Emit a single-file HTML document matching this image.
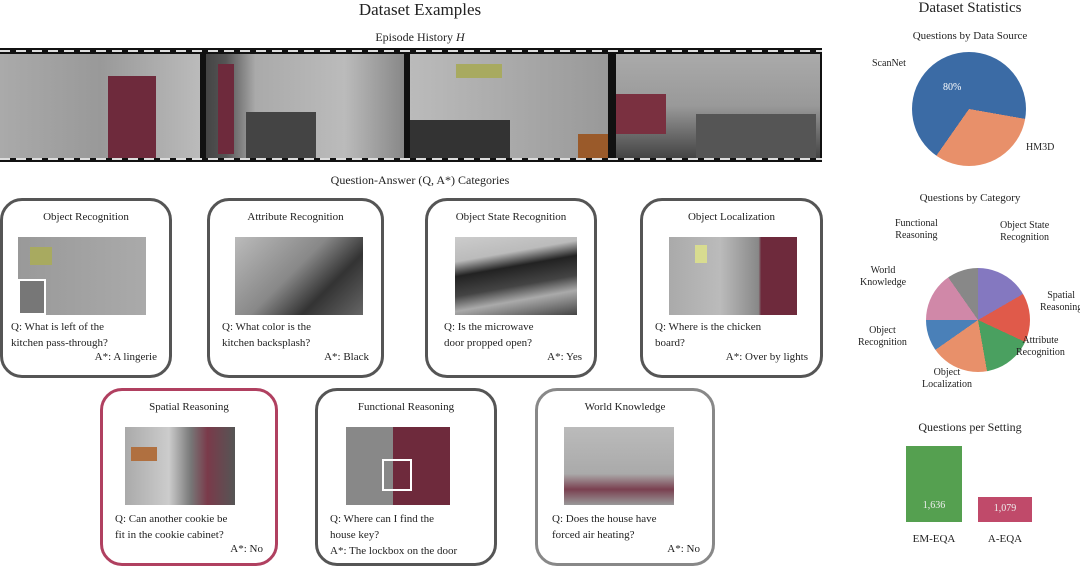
<!DOCTYPE html>
<html><head><meta charset="utf-8"><style>
body{margin:0;width:1080px;height:568px;background:#fff;position:relative;overflow:hidden;font-family:"Liberation Serif",serif;color:#222}
.a{position:absolute}
.t{position:absolute;white-space:nowrap;text-align:center}
.card{position:absolute;border:3px solid #555;border-radius:22px;box-sizing:border-box;background:#fff}
.card .h{position:absolute;top:10px;left:0;right:0;text-align:center;font-size:11px}
.img{position:absolute;background:linear-gradient(135deg,#bbb,#888 50%,#555)}
.q{position:absolute;font-size:11px;line-height:16px;white-space:nowrap}
.ans{position:absolute;font-size:11px;right:12px}
.fr{position:absolute;top:54px;height:104px}
</style></head><body>
<div class="t" style="left:300px;top:0;width:240px;font-size:17px">Dataset Examples</div>
<div class="t" style="left:300px;top:30px;width:240px;font-size:12px">Episode History <i>H</i></div>
<div class="a" style="left:0;top:48px;width:822px;height:114px;background:#111"></div>
<div class="a" style="left:0;top:50px;width:822px;height:2px;background:repeating-linear-gradient(90deg,#ddd 0 10px,#111 10px 16px)"></div>
<div class="a" style="left:0;top:158px;width:822px;height:2px;background:repeating-linear-gradient(90deg,#ddd 0 10px,#111 10px 16px)"></div>
<div class="fr" style="left:0;width:200px;background:linear-gradient(90deg,#aaa,#999 50%,#bbb)"><div class="a" style="left:108px;top:22px;width:48px;height:82px;background:#6e2a3c"></div></div>
<div class="fr" style="left:206px;width:198px;background:linear-gradient(90deg,#444 0,#555 10%,#aaa 25%,#bbb 70%,#888)"><div class="a" style="left:12px;top:10px;width:16px;height:90px;background:#6e2a3c"></div><div class="a" style="left:40px;top:58px;width:70px;height:46px;background:#444"></div></div>
<div class="fr" style="left:410px;width:198px;background:linear-gradient(90deg,#bbb,#aaa 50%,#999)"><div class="a" style="left:46px;top:10px;width:46px;height:14px;background:#a8aa60"></div><div class="a" style="left:0;top:66px;width:100px;height:38px;background:#333"></div><div class="a" style="left:168px;top:80px;width:30px;height:24px;background:#9a5a2a"></div></div>
<div class="fr" style="left:616px;width:204px;background:linear-gradient(180deg,#aaa,#999 50%,#444)"><div class="a" style="left:0;top:40px;width:50px;height:40px;background:#7a3040"></div><div class="a" style="left:80px;top:60px;width:120px;height:44px;background:#555"></div></div>
<div class="t" style="left:260px;top:173px;width:320px;font-size:12px">Question-Answer (Q, A*) Categories</div>

<div class="card" style="left:0;top:198px;width:172px;height:180px"><div class="h">Object Recognition</div><div class="img" style="left:15px;top:36px;width:128px;height:78px;background:linear-gradient(90deg,#999,#aaa)"><div class="a" style="left:12px;top:10px;width:22px;height:18px;background:#a8aa60"></div><div class="a" style="left:0;top:42px;width:28px;height:36px;border:2px solid #fff;background:#777;box-sizing:border-box"></div></div><div class="q" style="left:8px;top:118px">Q: What is left of the<br>kitchen pass-through?</div><div class="ans" style="top:150px">A*: A lingerie</div></div>
<div class="card" style="left:207px;top:198px;width:177px;height:180px"><div class="h">Attribute Recognition</div><div class="img" style="left:25px;top:36px;width:128px;height:78px;background:linear-gradient(135deg,#bbb,#888 45%,#333 70%,#666)"></div><div class="q" style="left:12px;top:118px">Q: What color is the<br>kitchen backsplash?</div><div class="ans" style="top:150px">A*: Black</div></div>
<div class="card" style="left:425px;top:198px;width:172px;height:180px"><div class="h">Object State Recognition</div><div class="img" style="left:27px;top:36px;width:122px;height:78px;background:linear-gradient(170deg,#ccc 0,#bbb 25%,#222 40%,#444 60%,#aaa 75%,#444)"></div><div class="q" style="left:16px;top:118px">Q: Is the microwave<br>door propped open?</div><div class="ans" style="top:150px">A*: Yes</div></div>
<div class="card" style="left:640px;top:198px;width:183px;height:180px"><div class="h">Object Localization</div><div class="img" style="left:26px;top:36px;width:128px;height:78px;background:linear-gradient(90deg,#aaa,#bbb 40%,#888 70%,#6e2a3c 72%)"><div class="a" style="left:26px;top:8px;width:12px;height:18px;background:#d8dc90"></div></div><div class="q" style="left:12px;top:118px">Q: Where is the chicken<br>board?</div><div class="ans" style="top:150px">A*: Over by lights</div></div>

<div class="card" style="left:100px;top:388px;width:178px;height:178px;border-color:#b04060"><div class="h">Spatial Reasoning</div><div class="img" style="left:22px;top:36px;width:110px;height:78px;background:linear-gradient(90deg,#aaa,#ccc 40%,#777 60%,#7a3a4a 75%,#555)"><div class="a" style="left:6px;top:20px;width:26px;height:14px;background:#b07040"></div></div><div class="q" style="left:12px;top:120px">Q: Can another cookie be<br>fit in the cookie cabinet?</div><div class="ans" style="top:152px">A*: No</div></div>
<div class="card" style="left:315px;top:388px;width:182px;height:178px"><div class="h">Functional Reasoning</div><div class="img" style="left:28px;top:36px;width:104px;height:78px;background:linear-gradient(90deg,#888 0 45%,#6e2a3c 45%)"><div class="a" style="left:36px;top:32px;width:30px;height:32px;border:2px solid #fff;box-sizing:border-box"></div></div><div class="q" style="left:12px;top:120px">Q: Where can I find the<br>house key?<br>A*: The lockbox on the door</div></div>
<div class="card" style="left:535px;top:388px;width:180px;height:178px;border-color:#888"><div class="h">World Knowledge</div><div class="img" style="left:26px;top:36px;width:110px;height:78px;background:linear-gradient(180deg,#bbb 0,#aaa 60%,#7a4050 80%,#999)"></div><div class="q" style="left:14px;top:120px">Q: Does the house have<br>forced air heating?</div><div class="ans" style="top:152px">A*: No</div></div>

<div class="t" style="left:880px;top:0;width:180px;font-size:15px">Dataset Statistics</div>
<div class="t" style="left:870px;top:30px;width:200px;font-size:11px">Questions by Data Source</div>
<div class="a" style="left:912px;top:52px;width:114px;height:114px;border-radius:50%;background:conic-gradient(#3b6ba5 0 100deg,#e8906a 100deg 215deg,#3b6ba5 215deg)"></div>
<div class="t" style="left:872px;top:58px;font-size:10px">ScanNet</div>
<div class="t" style="left:943px;top:82px;font-size:10px;color:#fff">80%</div>
<div class="t" style="left:1026px;top:142px;font-size:10px">HM3D</div>

<div class="t" style="left:870px;top:192px;width:200px;font-size:11px">Questions by Category</div>
<div class="a" style="left:926px;top:268px;width:104px;height:104px;border-radius:50%;background:conic-gradient(#8478c0 0 60deg,#e05a4a 60deg 115deg,#4aa060 115deg 170deg,#e8906a 170deg 235deg,#4a80b8 235deg 270deg,#d088a8 270deg 325deg,#888 325deg 360deg)"></div>
<div class="t" style="left:895px;top:218px;font-size:10px;line-height:12px">Functional<br>Reasoning</div>
<div class="t" style="left:1000px;top:220px;font-size:10px;line-height:12px">Object State<br>Recognition</div>
<div class="t" style="left:860px;top:265px;font-size:10px;line-height:12px">World<br>Knowledge</div>
<div class="t" style="left:1040px;top:290px;font-size:10px;line-height:12px">Spatial<br>Reasoning</div>
<div class="t" style="left:858px;top:325px;font-size:10px;line-height:12px">Object<br>Recognition</div>
<div class="t" style="left:1016px;top:335px;font-size:10px;line-height:12px">Attribute<br>Recognition</div>
<div class="t" style="left:922px;top:367px;font-size:10px;line-height:12px">Object<br>Localization</div>

<div class="t" style="left:880px;top:420px;width:180px;font-size:12px">Questions per Setting</div>
<div class="a" style="left:906px;top:446px;width:56px;height:76px;background:#55a050"></div>
<div class="a" style="left:978px;top:497px;width:54px;height:25px;background:#c04a6a"></div>
<div class="t" style="left:906px;top:500px;width:56px;font-size:10px;color:#eee">1,636</div>
<div class="t" style="left:978px;top:503px;width:54px;font-size:10px;color:#eee">1,079</div>
<div class="t" style="left:896px;top:533px;width:76px;font-size:11px">EM-EQA</div>
<div class="t" style="left:970px;top:533px;width:70px;font-size:11px">A-EQA</div>
</body></html>
